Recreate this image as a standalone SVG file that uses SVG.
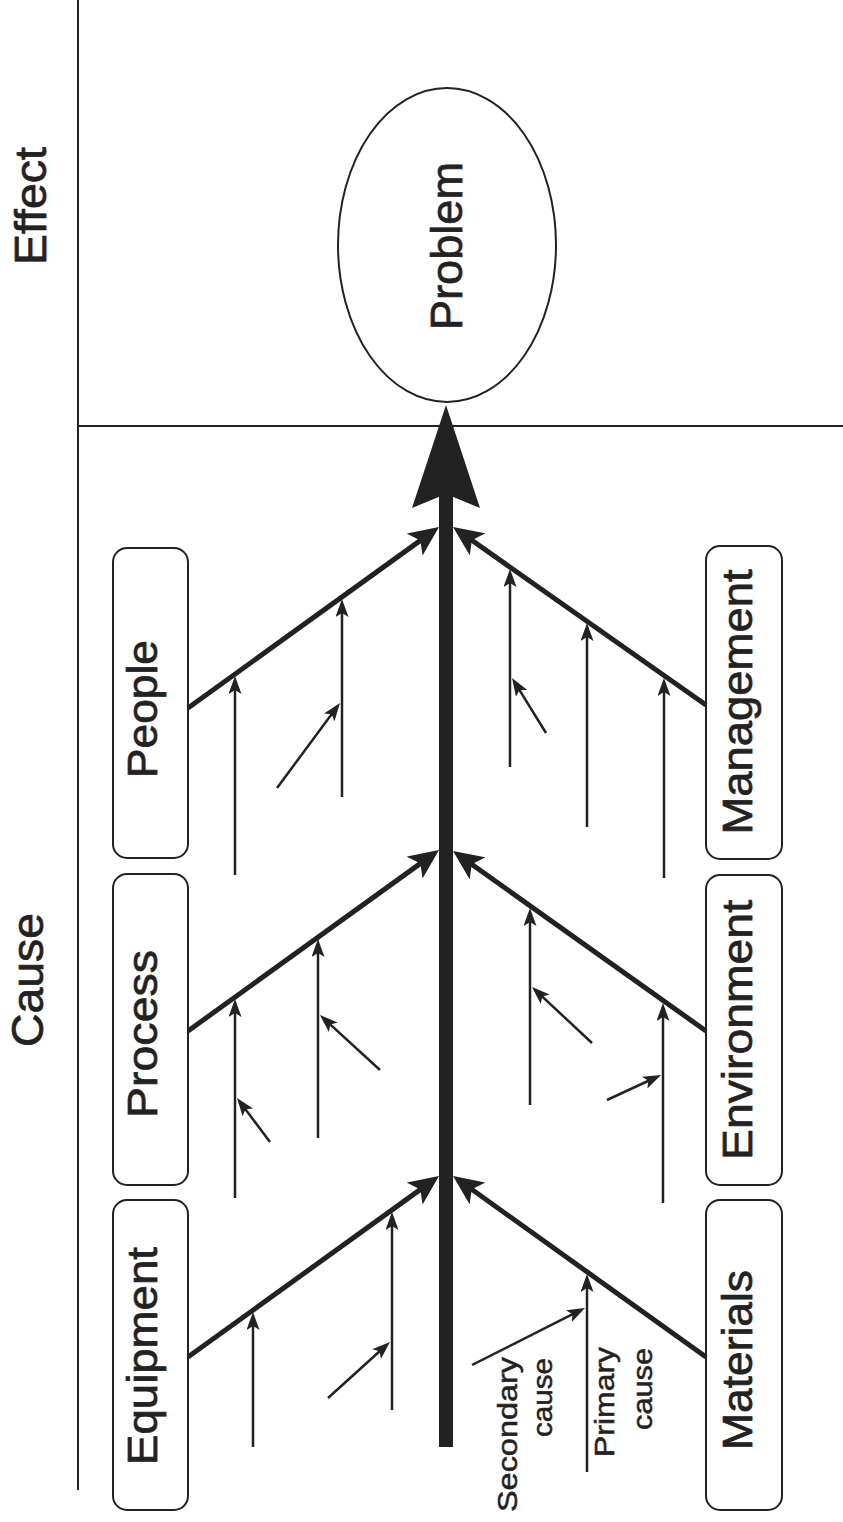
<svg xmlns="http://www.w3.org/2000/svg" width="843" height="1522" viewBox="0 0 843 1522">
<style>
.bg{fill:#fff}
.frame{stroke:#222;stroke-width:2;fill:none}
.box{fill:#fff;stroke:#222;stroke-width:2}
.lbl{font-family:"Liberation Sans",Arial,sans-serif;fill:#222;stroke:#222;stroke-width:0.7;text-anchor:middle}
.big{font-size:45px}
.mid{font-size:42px}
.sm{font-size:28px;stroke-width:0.5;text-anchor:end}
.branch{stroke:#222;stroke-width:5;fill:none;marker-end:url(#bh)}
.prim{stroke:#222;stroke-width:2.5;fill:none;marker-end:url(#sh)}
.spine{stroke:#222;stroke-width:14;fill:none}
</style>
<defs>
<marker id="bh" viewBox="0 0 30 27" markerUnits="userSpaceOnUse" markerWidth="30" markerHeight="27" refX="20" refY="13.5" orient="auto">
<path d="M0,0 L30,13.5 L0,27 L7,13.5 Z" fill="#222"/>
</marker>
<marker id="sh" viewBox="0 0 18 13" markerUnits="userSpaceOnUse" markerWidth="18" markerHeight="13" refX="12" refY="6.5" orient="auto">
<path d="M0,0 L18,6.5 L0,13 L4,6.5 Z" fill="#222"/>
</marker>
</defs>
<rect class="bg" x="0" y="0" width="843" height="1522"/>
<g id="frame">
<line class="frame" x1="78" y1="0" x2="78" y2="1490"/>
<line class="frame" x1="78" y1="426" x2="843" y2="426"/>
<text class="lbl big" transform="translate(46,206) rotate(-90)" textLength="118" lengthAdjust="spacingAndGlyphs">Effect</text>
<text class="lbl big" transform="translate(43,980) rotate(-90)" textLength="134" lengthAdjust="spacingAndGlyphs">Cause</text>
</g>
<g id="problem">
<ellipse cx="447" cy="245" rx="109" ry="157" fill="#fff" stroke="#222" stroke-width="2"/>
<text class="lbl big" transform="translate(462,246) rotate(-90)" textLength="168" lengthAdjust="spacingAndGlyphs">Problem</text>
</g>
<g id="people">
<rect class="box" x="113" y="548" width="75" height="310" rx="14"/>
<text class="lbl mid" transform="translate(157,709) rotate(-90)" textLength="138" lengthAdjust="spacingAndGlyphs">People</text>
</g>
<g id="process">
<rect class="box" x="113" y="874" width="75" height="311" rx="14"/>
<text class="lbl mid" transform="translate(157,1034) rotate(-90)" textLength="168" lengthAdjust="spacingAndGlyphs">Process</text>
</g>
<g id="equipment">
<rect class="box" x="113" y="1200" width="75" height="310" rx="14"/>
<text class="lbl mid" transform="translate(157,1356) rotate(-90)" textLength="218" lengthAdjust="spacingAndGlyphs">Equipment</text>
</g>
<g id="management">
<rect class="box" x="706" y="546" width="76" height="313" rx="14"/>
<text class="lbl mid" transform="translate(752,702) rotate(-90)" textLength="265" lengthAdjust="spacingAndGlyphs">Management</text>
</g>
<g id="environment">
<rect class="box" x="706" y="875" width="76" height="310" rx="14"/>
<text class="lbl mid" transform="translate(752,1030) rotate(-90)" textLength="260" lengthAdjust="spacingAndGlyphs">Environment</text>
</g>
<g id="materials">
<rect class="box" x="706" y="1200" width="76" height="310" rx="14"/>
<text class="lbl mid" transform="translate(752,1360) rotate(-90)" textLength="180" lengthAdjust="spacingAndGlyphs">Materials</text>
</g>
<g id="legend">
<text class="lbl sm" transform="translate(517,1357) rotate(-90)" textLength="155" lengthAdjust="spacingAndGlyphs">Secondary</text>
<text class="lbl sm" transform="translate(552,1358) rotate(-90)" textLength="79" lengthAdjust="spacingAndGlyphs">cause</text>
<text class="lbl sm" transform="translate(614,1347) rotate(-90)" textLength="110" lengthAdjust="spacingAndGlyphs">Primary</text>
<text class="lbl sm" transform="translate(652,1348) rotate(-90)" textLength="82" lengthAdjust="spacingAndGlyphs">cause</text>
</g>
<g id="connectors">
<line class="spine" x1="446" y1="1447" x2="446" y2="490"/>
<path d="M446,405 L480,508 L446,494 L412,508 Z" fill="#222"/>
<line class="branch" x1="188" y1="708" x2="430.9" y2="532.9"/>
<line class="branch" x1="188" y1="1031" x2="430.9" y2="855.9"/>
<line class="branch" x1="188" y1="1357" x2="430.9" y2="1181.9"/>
<line class="branch" x1="706" y1="705" x2="461.2" y2="532.8"/>
<line class="branch" x1="706" y1="1031" x2="461.2" y2="856.8"/>
<line class="branch" x1="706" y1="1357" x2="461.2" y2="1181.8"/>
<line class="prim" x1="235" y1="875" x2="235" y2="682"/>
<line class="prim" x1="342" y1="797" x2="342" y2="605"/>
<line class="prim" x1="277" y1="788" x2="336.4" y2="707.8"/>
<line class="prim" x1="510" y1="767" x2="510" y2="575"/>
<line class="prim" x1="546" y1="733" x2="515.2" y2="683.1"/>
<line class="prim" x1="587" y1="827" x2="587" y2="629"/>
<line class="prim" x1="664" y1="878" x2="664" y2="684"/>
<line class="prim" x1="235" y1="1198" x2="235" y2="1005"/>
<line class="prim" x1="270" y1="1142" x2="240.6" y2="1102.8"/>
<line class="prim" x1="318" y1="1138" x2="318" y2="945"/>
<line class="prim" x1="380" y1="1070" x2="324.4" y2="1019.1"/>
<line class="prim" x1="530" y1="1105" x2="530" y2="914"/>
<line class="prim" x1="592" y1="1043" x2="536.4" y2="991.1"/>
<line class="prim" x1="663" y1="1203" x2="663" y2="1009"/>
<line class="prim" x1="607" y1="1100" x2="655.6" y2="1077.5"/>
<line class="prim" x1="253" y1="1447" x2="253" y2="1318"/>
<line class="prim" x1="392" y1="1410" x2="392" y2="1218"/>
<line class="prim" x1="328" y1="1398" x2="385.5" y2="1346"/>
<line class="prim" x1="587" y1="1472" x2="587" y2="1280"/>
<line class="prim" x1="472" y1="1365" x2="579.6" y2="1310.7"/>
</g>
</svg>
